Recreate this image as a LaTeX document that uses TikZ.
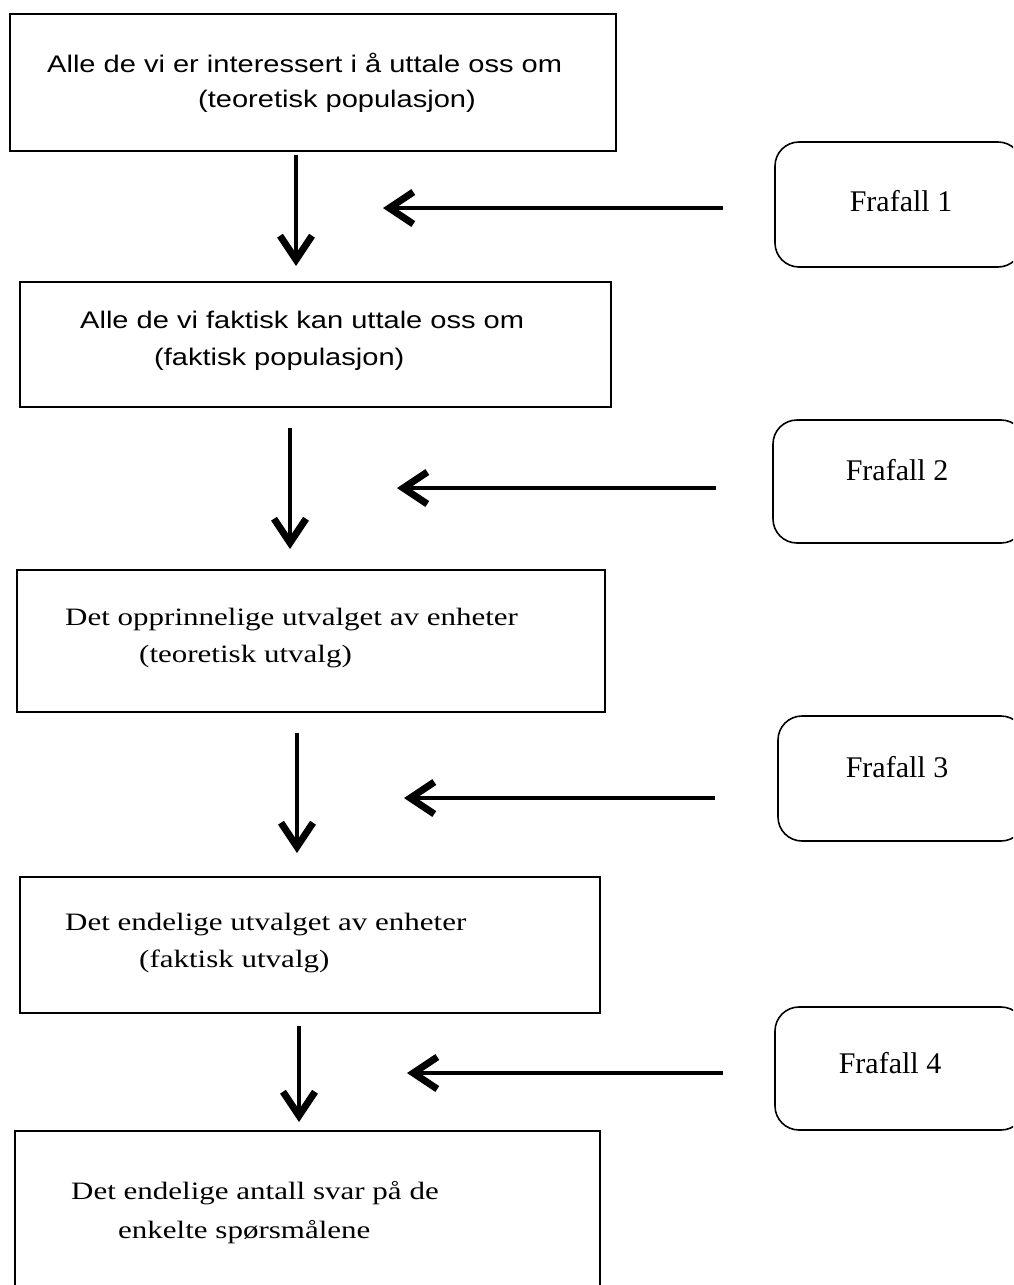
\documentclass[tikz,border=0pt]{standalone}
\usepackage{fontspec}
\setmainfont{Liberation Serif}
\newfontfamily\sansstretch{Liberation Sans}[FakeStretch=1.21]
\newfontfamily\serifstretch{Liberation Serif}[FakeStretch=1.24]
\usetikzlibrary{arrows.meta}
\tikzset{
  stagebox/.style={draw,line width=1.6pt,inner sep=0pt,outer sep=0pt},
  lossbox/.style={draw,line width=1.6pt,rounded corners=24pt,inner sep=0pt,outer sep=0pt},
  sanstext/.style={anchor=base west,inner sep=0pt,font=\sansstretch\fontsize{24}{28}\selectfont},
  seriftext/.style={anchor=base west,inner sep=0pt,font=\serifstretch\fontsize{25}{29}\selectfont},
  losstext/.style={anchor=base,inner sep=0pt,font=\fontsize{30}{34}\selectfont},
  flow/.style={line width=3.5pt,-{Straight Barb[length=24pt,width=32pt,line width=7pt 0]}}
}
\begin{document}
\begin{tikzpicture}[x=1pt,y=1pt,yscale=-1]
		\clip (0,0) rectangle (1013,1285); %page of 1013 x 1285

		% main chain of boxes
		\node [stagebox,minimum width=606pt,minimum height=137pt] (pop1) at (313,82.5) {};
		\node [stagebox,minimum width=591pt,minimum height=125pt] (pop2) at (315.5,344.5) {};
		\node [stagebox,minimum width=588pt,minimum height=142pt] (utv1) at (311,641) {};
		\node [stagebox,minimum width=580pt,minimum height=136pt] (utv2) at (310,945) {};
		\node [stagebox,minimum width=585pt,minimum height=200pt] (svar) at (307.5,1231) {};

		\node [sanstext] (pop1a) at (47,72) {Alle de vi er interessert i å uttale oss om};
		\node [sanstext] (pop1b) at (198,107) {(teoretisk populasjon)};
		\node [sanstext] (pop2a) at (80,328) {Alle de vi faktisk kan uttale oss om};
		\node [sanstext] (pop2b) at (154,365) {(faktisk populasjon)};
		\node [seriftext] (utv1a) at (65,625) {Det opprinnelige utvalget av enheter};
		\node [seriftext] (utv1b) at (139,662) {(teoretisk utvalg)};
		\node [seriftext] (utv2a) at (65,930) {Det endelige utvalget av enheter};
		\node [seriftext] (utv2b) at (139,967) {(faktisk utvalg)};
		\node [seriftext] (svara) at (71,1199) {Det endelige antall svar på de};
		\node [seriftext] (svarb) at (118,1238) {enkelte spørsmålene};

		% frafall boxes
		\node [lossbox,minimum width=247pt,minimum height=125pt] (fra1) at (898.5,204.5) {};
		\node [lossbox,minimum width=252pt,minimum height=123pt] (fra2) at (899,481.5) {};
		\node [lossbox,minimum width=247pt,minimum height=125pt] (fra3) at (901.5,778.5) {};
		\node [lossbox,minimum width=250pt,minimum height=123pt] (fra4) at (900,1068.5) {};
		\node [losstext] (fra1t) at (901,211) {Frafall 1};
		\node [losstext] (fra2t) at (897,480) {Frafall 2};
		\node [losstext] (fra3t) at (897,777) {Frafall 3};
		\node [losstext] (fra4t) at (890,1073) {Frafall 4};

		% arrows
		\coordinate (v1s) at (296,155);  \coordinate (v1e) at (296,266);
		\coordinate (v2s) at (290,428);  \coordinate (v2e) at (290,549);
		\coordinate (v3s) at (297,733);  \coordinate (v3e) at (297,853);
		\coordinate (v4s) at (299,1026); \coordinate (v4e) at (299,1122);
		\coordinate (h1s) at (723,208);  \coordinate (h1e) at (383,208);
		\coordinate (h2s) at (716,488);  \coordinate (h2e) at (397,488);
		\coordinate (h3s) at (715,798);  \coordinate (h3e) at (404,798);
		\coordinate (h4s) at (723,1073); \coordinate (h4e) at (407,1073);

		\draw [flow] (v1s) -- (v1e);
		\draw [flow] (v2s) -- (v2e);
		\draw [flow] (v3s) -- (v3e);
		\draw [flow] (v4s) -- (v4e);
		\draw [flow] (h1s) -- (h1e);
		\draw [flow] (h2s) -- (h2e);
		\draw [flow] (h3s) -- (h3e);
		\draw [flow] (h4s) -- (h4e);
\end{tikzpicture}
\end{document}
